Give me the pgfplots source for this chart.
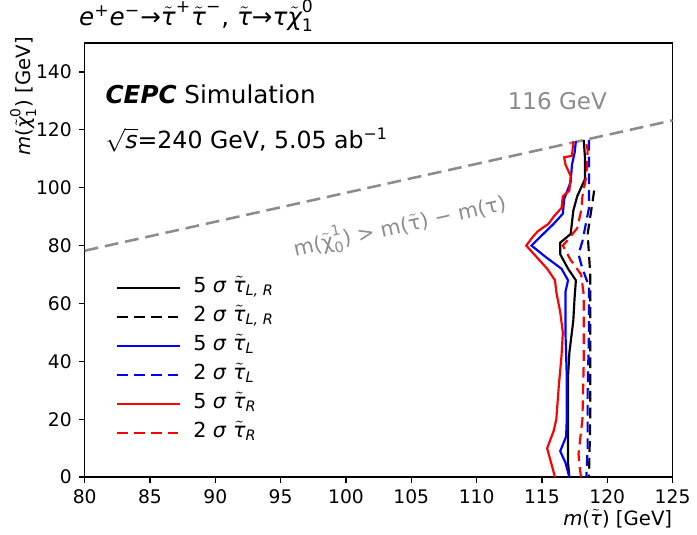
\documentclass[border=0pt]{standalone}
\usepackage{fontspec}
\setmainfont{DejaVu Sans}
\usepackage{amsmath}
\usepackage{pgfplots}
\pgfplotsset{compat=1.18}

\newcommand{\stau}{\tilde{\text{\itshape τ}}}
\newcommand{\chin}{\tilde{\text{\itshape χ}}}
\definecolor{guide}{gray}{0.55}

\begin{document}
\begin{tikzpicture}
\begin{axis}[
  width=298.5pt, height=220.5pt, scale only axis,
  xmin=80, xmax=125, ymin=0, ymax=150,
  xtick={80,85,...,125}, ytick={0,20,...,140},
  tick pos=left, tick align=outside,
  major tick length=3pt,
  axis line style={line width=0.7pt},
  every tick/.style={black, line width=0.7pt},
  tick label style={font=\fontsize{9.5}{11}\selectfont},
  /pgf/number format/assume math mode=true,
  xlabel={\textit{m}($\stau$) [GeV]},
  xlabel style={at={(axis description cs:1,-0.074)}, anchor=north east, inner sep=0pt, font=\fontsize{10}{12}\selectfont},
  ylabel={\textit{m}($\chin^{\text{0}}_{\text{1}}$) [GeV]},
  ylabel style={at={(axis description cs:-0.082,1.014)}, anchor=south east, inner sep=0pt, font=\fontsize{10}{12}\selectfont},
  legend style={at={(axis description cs:0.043,0.472)}, anchor=north west,
    draw=none, fill=none, font=\fontsize{10.5}{12}\selectfont,
    nodes={text height=7pt, text depth=2.5pt, inner ysep=1pt}, row sep=3.25pt,
    /tikz/every odd column/.append style={column sep=4pt}},
  legend cell align=left,
  legend image code/.code={\draw[#1] (0pt,0pt) -- (32pt,0pt);},
  clip=false,
]
% kinematic limit m(chi) = m(stau) - m(tau)
\addplot[guide, line width=1.3pt, dash pattern=on 7pt off 3.5pt, forget plot]
  coordinates {(80,78.223) (125,123.223)};

% 5 sigma L,R
\addplot[black, line width=1.1pt] coordinates {
(118.2,116.5) (118.3,110) (118.3,103) (117.7,97) (117.4,92) (117.2,84)
(116.4,81) (116.4,77) (117.0,72) (117.6,68) (117.5,62) (117.4,54)
(117.1,43) (117.0,35) (117.0,20) (117.0,5) (117.1,0)};
\addlegendentry{5 \textit{σ} $\stau_{\text{\itshape L, R}}$}
% 2 sigma L,R
\addplot[black, line width=1.1pt, dash pattern=on 5.5pt off 3pt] coordinates {
(119.0,99) (118.8,93) (118.6,87) (118.5,84) (118.6,77) (118.7,70)
(118.7,58) (118.7,40) (118.7,20) (118.6,0)};
\addlegendentry{2 \textit{σ} $\stau_{\text{\itshape L, R}}$}
% 5 sigma L
\addplot[blue, line width=1.1pt] coordinates {
(117.6,116) (117.5,112) (117.3,108) (117.2,102) (116.7,96) (116.6,91)
(115.9,87.5) (115.1,84) (114.2,80) (115.3,76) (116.5,72) (117.0,68)
(116.8,64) (116.8,50) (116.9,35) (116.9,20) (116.85,14) (116.4,9)
(116.8,5) (117.1,0)};
\addlegendentry{5 \textit{σ} $\stau_{\text{\itshape L}}$}
% 2 sigma L
\addplot[blue, line width=1.1pt, dash pattern=on 5.5pt off 3pt] coordinates {
(118.6,116.5) (118.6,105) (118.6,93) (118.1,81.5) (117.8,77) (118.1,72)
(118.6,66) (118.6,50) (118.5,30) (118.5,10) (118.4,0)};
\addlegendentry{2 \textit{σ} $\stau_{\text{\itshape L}}$}
% 5 sigma R
\addplot[red, line width=1.1pt] coordinates {
(117.4,116) (117.3,111) (116.7,110.5) (116.8,108) (117.2,104) (117.1,99)
(116.6,97) (116.5,93) (115.9,90) (115.5,87.5) (114.7,85) (114.3,83)
(113.8,80) (114.6,76) (115.4,72) (116.0,68) (116.1,64) (116.4,57)
(116.6,50) (116.5,42) (116.3,32) (116.1,20) (115.9,16) (115.4,10)
(115.7,5) (116.0,0)};
\addlegendentry{5 \textit{σ} $\stau_{\text{\itshape R}}$}
% 2 sigma R
\addplot[red, line width=1.1pt, dash pattern=on 5.5pt off 3pt] coordinates {
(118.4,115) (118.5,113) (118.4,104) (118.1,97) (118.0,92) (117.7,86)
(116.9,81.5) (116.6,80) (117.2,75) (118.0,70) (118.2,63) (118.2,40)
(118.1,20) (117.8,8) (117.9,3) (118.0,0)};
\addlegendentry{2 \textit{σ} $\stau_{\text{\itshape R}}$}

% texts
\node[anchor=south west, inner sep=0pt, font=\fontsize{12.5}{14}\selectfont]
  at (axis description cs:-0.01,1.025)
  {$\text{\itshape e}^{\text{+}}\text{\itshape e}^{\text{−}}\text{→}\stau^{\text{+}}\stau^{\text{−}}$, $\stau\text{→}\text{\itshape τ}\chin^{\text{0}}_{\text{1}}$};
\node[anchor=west, inner sep=0pt, font=\fontsize{12.5}{14}\selectfont]
  at (axis description cs:0.035,0.882) {{\bfseries\itshape CEPC} Simulation};
\node[anchor=west, inner sep=0pt, font=\fontsize{12}{14}\selectfont]
  at (axis description cs:0.035,0.776) {$\sqrt{\text{\itshape s}}$=240 GeV, 5.05 ab$^{\text{−1}}$};
\node[guide, inner sep=0pt, font=\fontsize{11.7}{14}\selectfont]
  at (axis description cs:0.804,0.866) {116 GeV};
\node[guide, rotate=12.5, inner sep=0pt, font=\fontsize{10.5}{12}\selectfont]
  at (axis cs:104.1,87) {m($\tilde{\text{χ}}^{\text{1}}_{\text{0}}$) > m($\tilde{\text{τ}}$) − m(τ)};

% frame of the whole figure
\path (axis description cs:-0.144,-0.1315) rectangle (axis description cs:1.0235,1.0816);
\end{axis}
\end{tikzpicture}
\end{document}
